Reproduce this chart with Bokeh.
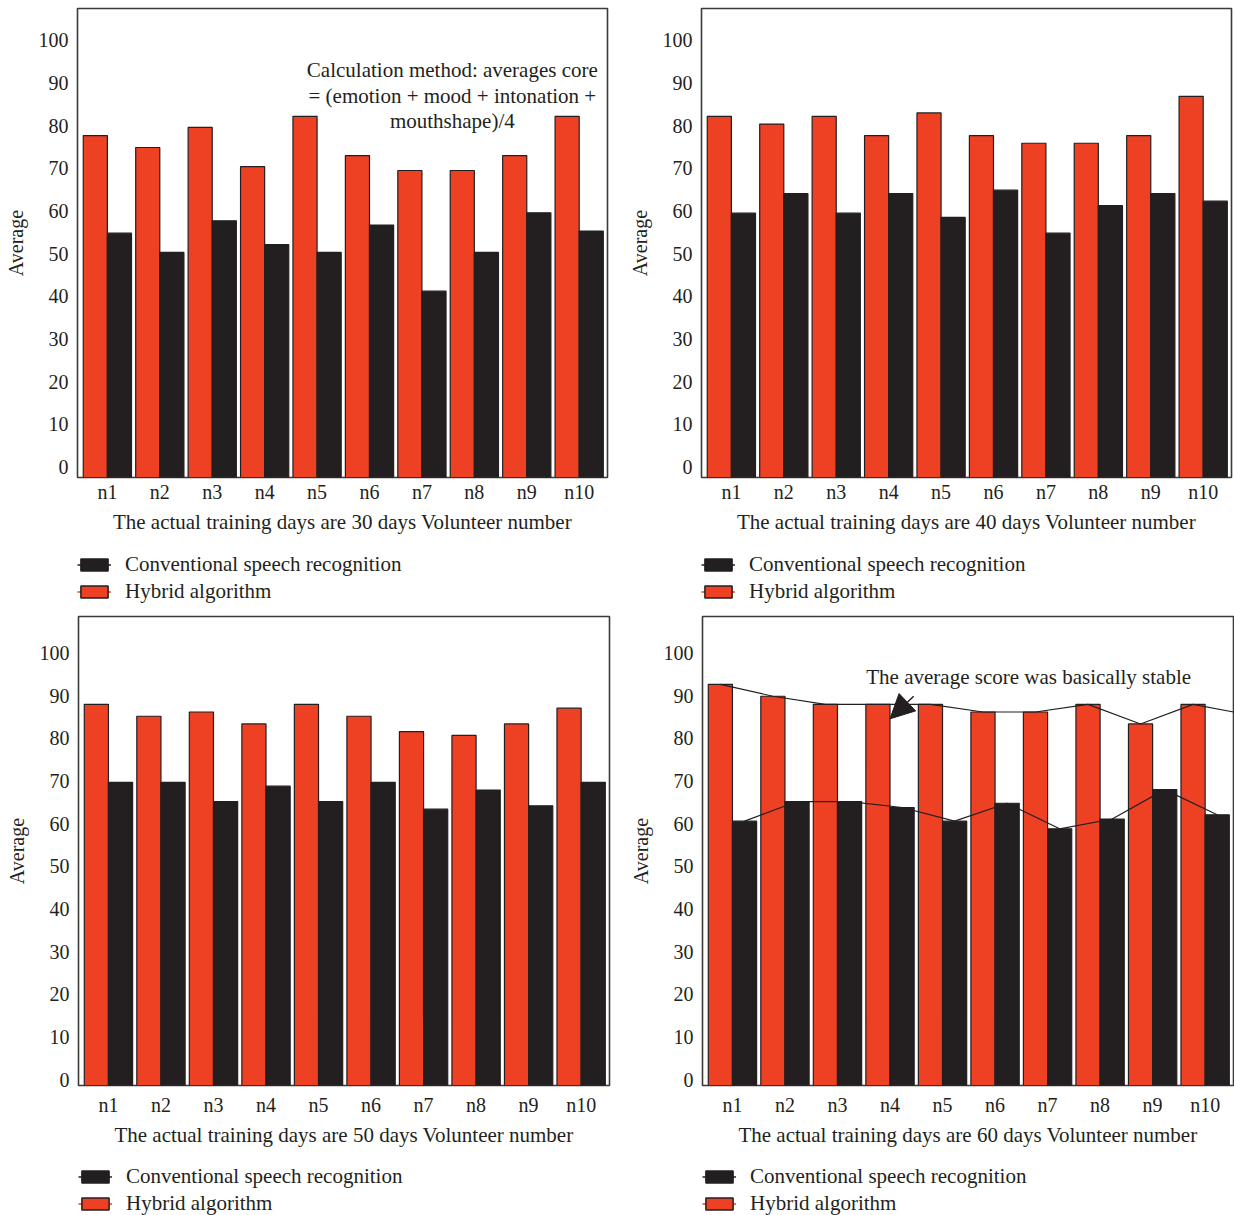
from bokeh.plotting import figure
from bokeh.layouts import column, row
from bokeh.models import (ColumnDataSource, Legend, LegendItem, FixedTicker,
                          Arrow, NormalHead, Label, Range1d)
from bokeh.embed import file_html
from bokeh.resources import INLINE

# ---- data -------------------------------------------------------------
volunteers = ["n1", "n2", "n3", "n4", "n5", "n6", "n7", "n8", "n9", "n10"]
y_ticks = [0, 10, 20, 30, 40, 50, 60, 70, 80, 90, 100]

hybrid_30 = [77.7, 74.9, 79.6, 70.4, 82.2, 73.0, 69.5, 69.5, 73.0, 82.2]
conventional_30 = [54.8, 50.3, 57.7, 52.1, 50.3, 56.7, 41.2, 50.3, 59.6, 55.3]

hybrid_40 = [82.2, 80.4, 82.2, 77.7, 83.0, 77.7, 75.9, 75.9, 77.7, 86.9]
conventional_40 = [59.5, 64.1, 59.5, 64.1, 58.5, 64.9, 54.8, 61.3, 64.1, 62.3]

hybrid_50 = [88.0, 85.2, 86.2, 83.4, 88.0, 85.2, 81.6, 80.7, 83.4, 87.1]
conventional_50 = [69.7, 69.7, 65.2, 68.8, 65.2, 69.7, 63.4, 67.9, 64.2, 69.7]

hybrid_60 = [92.7, 89.9, 88.0, 88.0, 88.0, 86.2, 86.2, 88.0, 83.4, 88.0]
conventional_60 = [60.6, 65.2, 65.2, 63.8, 60.6, 64.8, 58.8, 61.1, 68.0, 62.1]
# level the upper trend line reaches at the right edge of the 60-day panel
hybrid_60_trend_tail = 86.2

series_names = ["Conventional speech recognition", "Hybrid algorithm"]
captions = [
    "The actual training days are 30 days Volunteer number",
    "The actual training days are 40 days Volunteer number",
    "The actual training days are 50 days Volunteer number",
    "The actual training days are 60 days Volunteer number",
]
note_30 = ["Calculation method: averages core",
           "= (emotion + mood + intonation +",
           "mouthshape)/4"]
note_60 = "The average score was basically stable"

# ---- style ------------------------------------------------------------
RED = "#EE4124"
INK = "#231F20"
FONT = "Liberation Serif"
BAR_W = 0.46
X_RANGE = (-0.57, 9.54)
FRAME_W, FRAME_H = 531, 469

positions = list(range(len(volunteers)))
hyb_x = [i - BAR_W / 2 for i in positions]
conv_x = [i + BAR_W / 2 for i in positions]


def make_chart(hybrid, conventional, caption, width, height, left, top,
               y_top, label_gap):
    y_start = y_top - 110.0
    p = figure(width=width, height=height, output_backend="svg",
               toolbar_location=None, tools="",
               x_range=Range1d(*X_RANGE), y_range=Range1d(y_start, y_top),
               min_border_left=left, min_border_top=top,
               min_border_right=width - left - FRAME_W,
               min_border_bottom=height - top - FRAME_H)
    p.background_fill_color = "white"
    p.border_fill_color = "white"
    p.outline_line_color = "#3a3a3a"
    p.outline_line_width = 1.6
    p.xgrid.visible = False
    p.ygrid.visible = False

    src = ColumnDataSource(dict(hx=hyb_x, cx=conv_x,
                                hyb=hybrid, conv=conventional))
    p.vbar(x="hx", top="hyb", bottom=y_start, width=BAR_W, source=src,
           fill_color=RED, line_color=INK, line_width=1.2)
    p.vbar(x="cx", top="conv", bottom=y_start, width=BAR_W, source=src,
           fill_color=INK, line_color=INK, line_width=1.2)

    for ax in (p.xaxis[0], p.yaxis[0]):
        ax.axis_line_color = None
        ax.major_tick_line_color = None
        ax.minor_tick_line_color = None
        ax.major_tick_out = 0
        ax.major_tick_in = 0
        ax.minor_tick_out = 0
        ax.minor_tick_in = 0
        ax.major_label_text_font = FONT
        ax.major_label_text_font_size = "20px"
        ax.major_label_text_color = INK
        ax.axis_label_text_font = FONT
        ax.axis_label_text_font_style = "normal"
        ax.axis_label_text_color = INK

    p.yaxis.ticker = FixedTicker(ticks=y_ticks)
    p.yaxis.major_label_standoff = 9
    p.yaxis.axis_label = "Average"
    p.yaxis.axis_label_text_font_size = "20px"
    p.yaxis.axis_label_standoff = 9

    p.xaxis.ticker = FixedTicker(ticks=positions)
    p.xaxis.major_label_overrides = {i: v for i, v in zip(positions, volunteers)}
    p.xaxis.major_label_standoff = label_gap
    p.xaxis.axis_label = caption
    p.xaxis.axis_label_text_font_size = "21px"
    p.xaxis.axis_label_standoff = 4
    return p


def make_key(hybrid, conventional, width, height, left, top):
    """Strip under a chart that carries its two-entry key.

    The series are drawn here as hidden renderers; the key only borrows
    their styling for its swatches.
    """
    k = figure(width=width, height=height, output_backend="svg",
               toolbar_location=None, tools="",
               x_axis_type=None, y_axis_type=None,
               x_range=Range1d(0, 1), y_range=Range1d(0, 1),
               min_border_left=left, min_border_top=top,
               min_border_right=0, min_border_bottom=0)
    k.outline_line_color = None
    k.background_fill_color = "white"
    k.border_fill_color = "white"
    k.xgrid.visible = False
    k.ygrid.visible = False
    src = ColumnDataSource(dict(hx=hyb_x, cx=conv_x,
                                hyb=hybrid, conv=conventional))
    conv_stroke = k.line(x="cx", y="conv", source=src, line_color=INK,
                         line_width=1.5, visible=False)
    hyb_stroke = k.line(x="hx", y="hyb", source=src, line_color=RED,
                        line_width=1.5, visible=False)
    conv_box = k.vbar(x="cx", top="conv", width=BAR_W, source=src,
                      fill_color=INK, line_color=INK, line_width=1.5,
                      visible=False)
    hyb_box = k.vbar(x="hx", top="hyb", width=BAR_W, source=src,
                     fill_color=RED, line_color=INK, line_width=1.5,
                     visible=False)
    legend = Legend(items=[
        LegendItem(label=series_names[0], renderers=[conv_stroke, conv_box]),
        LegendItem(label=series_names[1], renderers=[hyb_stroke, hyb_box]),
    ], location="top_left")
    legend.glyph_width = 34
    legend.glyph_height = 15
    legend.label_height = 23
    legend.spacing = 2
    legend.padding = 0
    legend.margin = 0
    legend.label_standoff = 14
    legend.label_text_font = FONT
    legend.label_text_font_size = "21px"
    legend.label_text_color = INK
    legend.border_line_color = None
    legend.background_fill_alpha = 0
    legend.inactive_fill_alpha = 0
    k.add_layout(legend)
    return k


p30 = make_chart(hybrid_30, conventional_30, captions[0], 624, 542, 76, 8, 107.5, 3)
p40 = make_chart(hybrid_40, conventional_40, captions[1], 610, 542, 76, 8, 107.5, 3)
p50 = make_chart(hybrid_50, conventional_50, captions[2], 624, 545, 78, 8, 108.6, 8)
p60 = make_chart(hybrid_60, conventional_60, captions[3], 610, 545, 78, 8, 108.6, 8)

k30 = make_key(hybrid_30, conventional_30, 624, 66, 77, 10)
k40 = make_key(hybrid_40, conventional_40, 610, 66, 77, 10)
k50 = make_key(hybrid_50, conventional_50, 624, 62, 77, 11)
k60 = make_key(hybrid_60, conventional_60, 610, 62, 77, 11)

# note on the 30-day panel
for n, line in enumerate(note_30):
    p30.add_layout(Label(x=6.58, y=93.0 - 6.0 * n, text=line,
                         text_align="center", text_baseline="middle",
                         text_font=FONT, text_font_size="21px",
                         text_color=INK))

# trend lines over the 60-day bars
trend_hx = hyb_x + [X_RANGE[1]]
trend_hy = hybrid_60 + [hybrid_60_trend_tail]
p60.line(x=trend_hx, y=trend_hy, line_color=INK, line_width=1.2)
p60.line(x=conv_x, y=conventional_60, line_color=INK, line_width=1.2)

p60.add_layout(Label(x=5.64, y=94.5, text=note_60, text_align="center",
                     text_baseline="middle", text_font=FONT,
                     text_font_size="21px", text_color=INK))
p60.add_layout(Arrow(end=NormalHead(size=24, fill_color=INK, line_color=INK),
                     x_start=3.45, y_start=89.9, x_end=3.0, y_end=84.6,
                     line_color=INK, line_width=1.5))

layout = column(row(column(p30, k30), column(p40, k40)),
                row(column(p50, k50), column(p60, k60)))
open("out.html", "w").write(file_html(layout, INLINE))
